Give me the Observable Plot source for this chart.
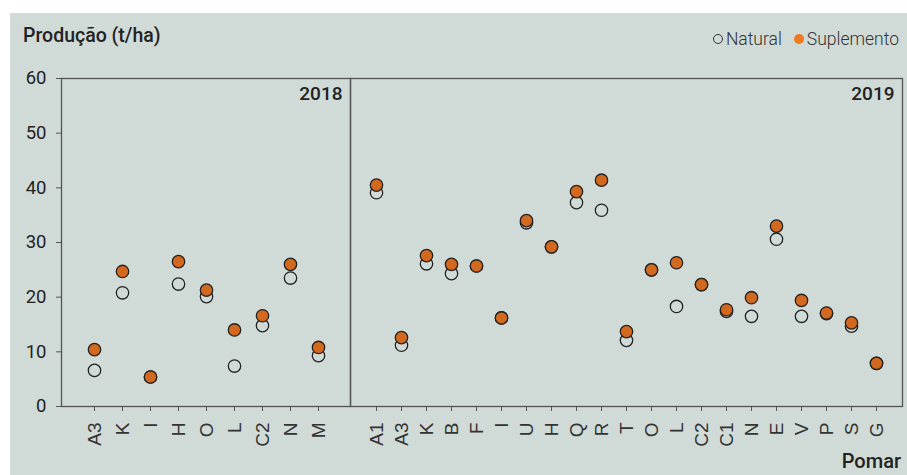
<!DOCTYPE html>
<html>
<head>
<meta charset="utf-8">
<script src="https://cdn.jsdelivr.net/npm/d3@7"></script>
<script src="https://cdn.jsdelivr.net/npm/@observablehq/plot@0.6"></script>
<style>
  html, body { margin: 0; padding: 0; background: #ffffff; }
  #fig { position: absolute; left: 10px; top: 13px; width: 897px; height: 462px; background: #d0dad6; font-family: Roboto, sans-serif; overflow: hidden; }
  #title { position: absolute; left: 13px; top: 11px; font-size: 19.5px; font-weight: 500; color: #222; }
  #legend { position: absolute; right: 8px; top: 16px; font-size: 17.5px; font-weight: 300; color: #333; display: flex; align-items: center; }
  #legend .sw { display: inline-block; width: 10px; height: 10px; border-radius: 50%; box-sizing: border-box; margin-right: 3px; }
  #legend .item { display: flex; align-items: center; margin-left: 12px; }
  #xlabel { position: absolute; right: 6px; top: 436px; font-size: 20px; font-weight: 500; color: #222; }
  #p2018 { position: absolute; left: 0px; top: 47px; }
  #p2019 { position: absolute; left: 330px; top: 47px; }
  svg { overflow: visible; }
</style>
</head>
<body>
<div id="fig">
  <div id="title">Produção (t/ha)</div>
  <div id="legend"></div>
  <div id="p2018"></div>
  <div id="p2019"></div>
  <div id="xlabel">Pomar</div>
</div>
<script>
// ---- data ----
const seriesNames = ["Natural", "Suplemento"];
const years = ["2018", "2019"];
const pomares2018 = ["A3","K","I","H","O","L","C2","N","M"];
const natural2018 = [6.6, 20.8, 5.4, 22.4, 20.1, 7.4, 14.8, 23.5, 9.3];
const suplemento2018 = [10.4, 24.7, 5.4, 26.5, 21.3, 14.0, 16.6, 26.0, 10.8];
const pomares2019 = ["A1","A3","K","B","F","I","U","H","Q","R","T","O","L","C2","C1","N","E","V","P","S","G"];
const natural2019 = [39.1, 11.2, 26.1, 24.3, 25.7, 16.2, 33.6, 29.2, 37.3, 35.9, 12.1, 25.0, 18.3, 22.3, 17.4, 16.5, 30.6, 16.5, 17.0, 14.7, 7.9];
const suplemento2019 = [40.5, 12.6, 27.6, 26.0, 25.7, 16.2, 34.0, 29.2, 39.3, 41.4, 13.7, 25.0, 26.3, 22.3, 17.7, 19.9, 33.0, 19.4, 17.1, 15.3, 7.9];
const yTicks = [0, 10, 20, 30, 40, 50, 60];

const orange = "#d2691e";
const ink = "#222";
const frameColor = "#555";

function rows(pomares, nat, sup) {
  const out = [];
  pomares.forEach((p, i) => {
    out.push({pomar: p, serie: seriesNames[0], valor: nat[i]});
    out.push({pomar: p, serie: seriesNames[1], valor: sup[i]});
  });
  return out;
}

function panel(year, pomares, nat, sup, opts) {
  const data = rows(pomares, nat, sup);
  const marks = [
    Plot.frame({stroke: frameColor, strokeWidth: 1.3}),
    Plot.axisX({tickRotate: -90, tickSize: 5, tickPadding: 11, fontSize: 19, fontFamily: "Liberation Sans, Arial, sans-serif", stroke: frameColor, color: "#333", label: null}),
    Plot.dot(data.filter(d => d.serie === "Natural"), {x: "pomar", y: "valor", r: 6.2, fill: "none", stroke: ink, strokeWidth: 1.3}),
    Plot.dot(data.filter(d => d.serie === "Suplemento"), {x: "pomar", y: "valor", r: 6.2, fill: orange, stroke: ink, strokeWidth: 1.3}),
    Plot.text([year], {frameAnchor: "top-right", text: d => d, dx: -8, dy: 8, lineAnchor: "top", fontSize: 19, fontWeight: 500, fill: ink, fontFamily: "Roboto"})
  ];
  if (opts.yAxis) {
    marks.unshift(Plot.axisY({ticks: yTicks, tickSize: 5, tickPadding: 10, fontSize: 18.5, fontFamily: "Roboto", stroke: frameColor, color: "#222", label: null}));
  } else {
    marks.unshift(Plot.axisY({ticks: [], label: null}));
  }
  return Plot.plot({
    width: opts.width, height: 396,
    marginLeft: opts.ml, marginRight: opts.mr, marginTop: 18, marginBottom: 50,
    style: {background: "transparent", fontFamily: "Roboto", overflow: "visible"},
    x: {type: "point", domain: pomares, padding: 1},
    y: {domain: [0, 60]},
    marks
  });
}

document.getElementById("p2018").append(panel(years[0], pomares2018, natural2018, suplemento2018, {width: 341, ml: 51, mr: 1, yAxis: true}));
document.getElementById("p2019").append(panel(years[1], pomares2019, natural2019, suplemento2019, {width: 567, ml: 10, mr: 5, yAxis: false}));

// legend
const lg = document.getElementById("legend");
seriesNames.forEach((s, i) => {
  const it = document.createElement("span");
  it.className = "item";
  const sw = document.createElement("span");
  sw.className = "sw";
  if (i === 0) { sw.style.border = "1.2px solid #333"; sw.style.background = "transparent"; }
  else { sw.style.background = "#ee7a22"; }
  it.append(sw, document.createTextNode(s));
  lg.append(it);
});
</script>
</body>
</html>
